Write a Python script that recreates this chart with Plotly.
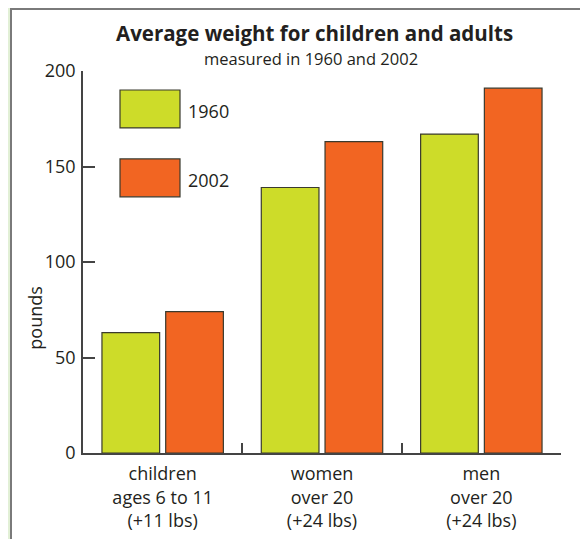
import plotly.graph_objects as go

categories = ["children<br>ages 6 to 11<br>(+11 lbs)", "women<br>over 20<br>(+24 lbs)", "men<br>over 20<br>(+24 lbs)"]
years = ["1960", "2002"]
weights_1960 = [63, 139, 167]
weights_2002 = [74, 163, 191]
y_ticks = [0, 50, 100, 150, 200]

colors = {"1960": "#cddc29", "2002": "#f26522"}
OFF = 8  # browser body margin
W, H = 588 - OFF, 539 - OFF
# target pixel positions in the 588x539 window
AX_L, AX_R, AX_T, AX_B = 83, 561, 71, 453.5
ML, MT = AX_L - OFF, AX_T - OFF
MR = W - (AX_R - OFF)
MB = H - (AX_B - OFF)
PW, PH = AX_R - AX_L, AX_B - AX_T

def px(x):
    return (x - AX_L) / PW

def py(y):
    return (AX_B - y) / PH

FONT = "Open Sans"
TXT = "#231f20"

fig = go.Figure()
for yr, vals in zip(years, [weights_1960, weights_2002]):
    fig.add_trace(go.Bar(
        x=categories, y=vals, name=yr,
        marker=dict(color=colors[yr], line=dict(color="#3a3a2e", width=1.2)),
        showlegend=False,
    ))

shapes = [
    dict(type="rect", xref="paper", yref="paper", x0=px(11), x1=px(585), y0=py(600), y1=py(9),
         fillcolor="white", line=dict(color="#7a7a7a", width=2), layer="below"),
]
annotations = [
    dict(text="<b>Average weight for children and adults</b>", xref="paper", yref="paper",
         x=px(314), y=py(33), xanchor="center", yanchor="middle", showarrow=False,
         font=dict(size=20.5, family=FONT, color=TXT)),
    dict(text="measured in 1960 and 2002", xref="paper", yref="paper",
         x=px(311), y=py(58), xanchor="center", yanchor="middle", showarrow=False,
         font=dict(size=16.5, family=FONT, color=TXT)),
    dict(text="pounds", xref="paper", yref="paper", x=px(35), y=py(318), textangle=-90,
         xanchor="center", yanchor="middle", showarrow=False,
         font=dict(size=18, family=FONT, color=TXT)),
]
legend_boxes = [(90, 128), (159, 197)]
for yr, (t, b) in zip(years, legend_boxes):
    shapes.append(dict(type="rect", xref="paper", yref="paper", x0=px(120), x1=px(180),
                       y0=py(b), y1=py(t), fillcolor=colors[yr],
                       line=dict(color="#3a3a2e", width=1.2)))
    annotations.append(dict(text=yr, xref="paper", yref="paper", x=px(186), y=py((t + b) / 2 + 2),
                            xanchor="left", yanchor="middle", showarrow=False,
                            font=dict(size=18, family=FONT, color=TXT)))

fig.update_layout(
    width=W, height=H,
    margin=dict(l=ML, r=MR, t=MT, b=MB, pad=0, autoexpand=False),
    paper_bgcolor="#e2f0d6", plot_bgcolor="white",
    barmode="group", bargap=0.2, bargroupgap=0.095,
    shapes=shapes, annotations=annotations,
    font=dict(family=FONT, size=18, color=TXT),
    xaxis=dict(showline=True, linecolor="#444", linewidth=1.5, ticks="inside", tickson="boundaries",
               ticklen=10, tickcolor="#444", tickwidth=1.5, showgrid=False, ticklabelstandoff=4,
               automargin=False, tickfont=dict(size=18, family=FONT, color=TXT)),
    yaxis=dict(range=[0, 200], tickvals=y_ticks, showline=True, linecolor="#444", linewidth=1.5,
               ticks="inside", ticklen=12, tickcolor="#444", tickwidth=1.5, showgrid=False,
               zeroline=False, ticklabelstandoff=2, automargin=False,
               tickfont=dict(size=18, family=FONT, color=TXT)),
)

fig.write_html("out.html")
